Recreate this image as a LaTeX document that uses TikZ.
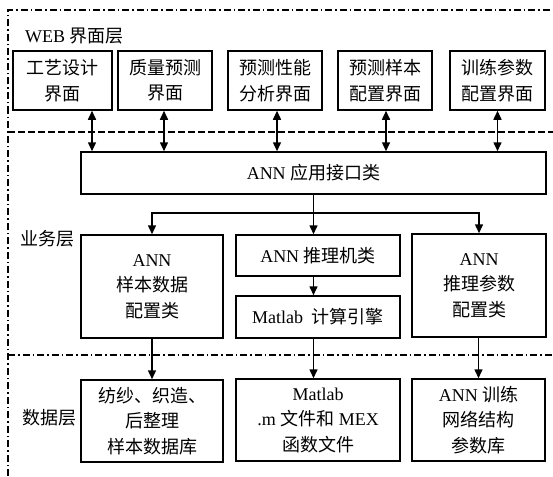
\documentclass[tikz,border=0pt]{standalone}
\usepackage{fontspec}
\setmainfont{Liberation Serif}
\newfontfamily\cjk{Noto Sans CJK SC}
\usetikzlibrary{arrows.meta,calc}
\begin{document}
\begin{tikzpicture}[x=1pt,y=-1pt,
  box/.style={draw,line width=1.5pt,align=center,inner sep=0pt,
    font=\fontsize{18}{25.5}\selectfont},
  lbl/.style={anchor=west,inner sep=0pt,font=\fontsize{18}{25}\selectfont},
  conn/.style={line width=1.5pt,-{Triangle[length=9pt,width=8pt]}},
  dconn/.style={line width=1.5pt,{Triangle[length=9pt,width=8pt]}-{Triangle[length=9pt,width=8pt]}},
  frame/.style={line width=1.4pt,dash pattern=on 7pt off 3pt on 1.5pt off 3pt},
  sepdash/.style={line width=1.4pt,dash pattern=on 7pt off 3pt}]
\useasboundingbox (0,0) rectangle (553,476);
% frame and layer separators
\draw[frame] (8,476) -- (8,10) -- (553,10);
\draw[sepdash] (8,132) -- (553,132);
\draw[frame] (8,355) -- (553,355);
% layer labels
\node[lbl] (lweb) at (25,36) {WEB {\cjk 界面层}};
\node[lbl] (lbiz) at (20,239) {\cjk 业务层};
\node[lbl] (ldata) at (22,418) {\cjk 数据层};
% WEB layer
\node[box,minimum width=99pt,minimum height=59pt] (w1) at (62.5,80.5) {\cjk 工艺设计\\\cjk 界面};
\node[box,minimum width=94pt,minimum height=59pt] (w2) at (165,80.5) {\cjk 质量预测\\\cjk 界面};
\node[box,minimum width=94pt,minimum height=59pt] (w3) at (275,80.5) {\cjk 预测性能\\\cjk 分析界面};
\node[box,minimum width=94pt,minimum height=59pt] (w4) at (385,80.5) {\cjk 预测样本\\\cjk 配置界面};
\node[box,minimum width=95pt,minimum height=59pt] (w5) at (497.5,80.5) {\cjk 训练参数\\\cjk 配置界面};
% API
\node[box,minimum width=465pt,minimum height=42pt] (api) at (313.5,173) {ANN {\cjk 应用接口类}};
% business layer
\node[box,minimum width=142pt,minimum height=103pt] (b1) at (152,286.5) {ANN\\\cjk 样本数据\\\cjk 配置类};
\node[box,minimum width=164pt,minimum height=41pt] (b2) at (318,255.5) {ANN {\cjk 推理机类}};
\node[box,minimum width=164pt,minimum height=42pt] (b3) at (318,317) {Matlab\ \ {\cjk 计算引擎}};
\node[box,minimum width=134pt,minimum height=103pt] (b4) at (479,285.5) {ANN\\\cjk 推理参数\\\cjk 配置类};
% data layer
\node[box,minimum width=142pt,minimum height=82pt] (d1) at (152,421) {\cjk 纺纱、织造、\\\cjk 后整理\\\cjk 样本数据库};
\node[box,minimum width=164pt,minimum height=82pt] (d2) at (318,420) {Matlab\\.m {\cjk 文件和} MEX\\\cjk 函数文件};
\node[box,minimum width=133pt,minimum height=82pt] (d3) at (478.5,420) {ANN {\cjk 训练}\\\cjk 网络结构\\\cjk 参数库};
% WEB <-> API
\draw[dconn] ([xshift=29.5pt]w1.south) -- ([xshift=29.5pt]w1.south |- api.north);
\draw[dconn] ([xshift=-1pt]w2.south) -- ([xshift=-1pt]w2.south |- api.north);
\draw[dconn] ([xshift=2pt]w3.south) -- ([xshift=2pt]w3.south |- api.north);
\draw[dconn] ([xshift=1pt]w4.south) -- ([xshift=1pt]w4.south |- api.north);
\draw[dconn] (w5.south) -- (w5.south |- api.north);
% API -> business
\coordinate (br) at (313.5,213);
\draw[line width=1.5pt] (api.south) -- (br);
\draw[conn] (br) -| (b1.north);
\draw[conn] (br) -| (b4.north);
\draw[conn] (br) -- (br |- b2.north);
\draw[conn] (br |- b2.south) -- (br |- b3.north);
% business -> data
\draw[conn] (b1.south) -- (d1.north);
\draw[conn] (br |- b3.south) -- (br |- d2.north);
\draw[conn] ([xshift=-0.5pt]b4.south) -- (d3.north);
\end{tikzpicture}
\end{document}
